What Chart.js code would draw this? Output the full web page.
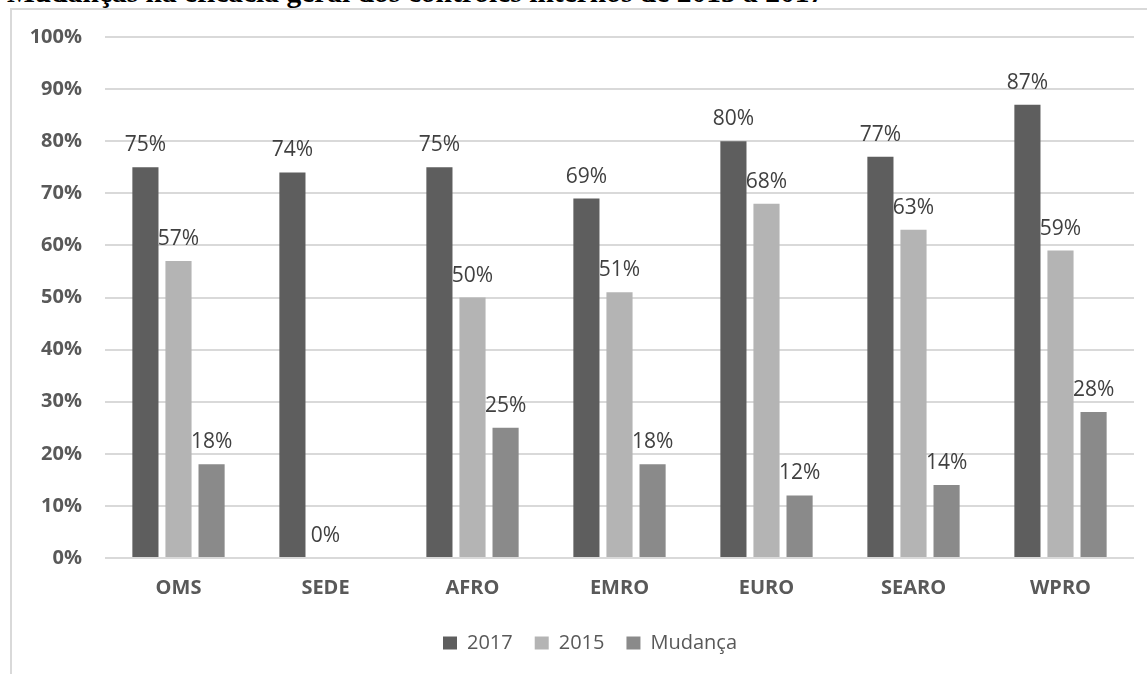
<!DOCTYPE html>
<html>
<head>
<meta charset="utf-8">
<script src="https://cdn.jsdelivr.net/npm/chart.js@4/dist/chart.umd.min.js"></script>
<style>
  html, body { margin: 0; padding: 0; background: #fff; overflow: hidden; }
  #page { position: relative; width: 1147px; height: 674px; overflow: hidden; }
  #title {
    position: absolute; left: 7px; top: -22px; white-space: nowrap;
    font: bold 29.5px "Liberation Serif", "Times New Roman", serif; line-height: 29px; color: #000;
  }
  #frame {
    position: absolute; left: 10px; top: 8px; width: 1200px; height: 700px;
    border-left: 2px solid #d9d9d9; border-top: 2px solid #d9d9d9;
  }
  #wrap { position: absolute; left: 0; top: 0; width: 1147px; height: 674px; }
</style>
</head>
<body>
<div id="page">
  <div id="title">Mudanças na eficácia geral dos controles internos de 2015 a 2017</div>
  <div id="frame"></div>
  <div id="wrap"><canvas id="chart"></canvas></div>
</div>
<script>
  /* ── Data ─────────────────────────────────────────── */
  const categories = ["OMS", "SEDE", "AFRO", "EMRO", "EURO", "SEARO", "WPRO"];
  const values2017 = [75, 74, 75, 69, 80, 77, 87];
  const values2015 = [57, 0, 50, 51, 68, 63, 59];
  const valuesChange = [18, null, 25, 18, 12, 14, 28];
  const yTicks = [0, 10, 20, 30, 40, 50, 60, 70, 80, 90, 100];

  const FONT = '"Open Sans", "Liberation Sans", sans-serif';

  /* ── Data labels above the bars ───────────────────── */
  const barLabels = {
    id: "barLabels",
    afterDatasetsDraw(chart) {
      const ctx = chart.ctx;
      ctx.save();
      ctx.font = "21px " + FONT;
      ctx.fillStyle = "#404040";
      ctx.textAlign = "center";
      ctx.textBaseline = "alphabetic";
      chart.data.datasets.forEach((ds, i) => {
        const meta = chart.getDatasetMeta(i);
        meta.data.forEach((bar, j) => {
          const v = ds.data[j];
          if (v === null || v === undefined) return;
          ctx.fillText(v + "%", bar.x, bar.y - 16);
        });
      });
      ctx.restore();
    }
  };

  /* ── Nudge the legend a little to the right, as in the source ── */
  const legendShift = {
    id: "legendShift",
    afterLayout(chart) {
      if (!chart.legend) return;
      chart.legend.left += 23;
      chart.legend.right += 23;
    }
  };

  new Chart(document.getElementById("chart"), {
    type: "bar",
    data: {
      labels: categories,
      datasets: [
        { label: "2017", data: values2017, backgroundColor: "#5e5e5e" },
        { label: "2015", data: values2015, backgroundColor: "#b4b4b4" },
        { label: "Mudança", data: valuesChange, backgroundColor: "#8a8a8a" }
      ]
    },
    options: {
      responsive: true,
      maintainAspectRatio: false,
      animation: false,
      categoryPercentage: 0.675,
      barPercentage: 0.79,
      layout: { padding: { left: 0, right: 13, top: 37, bottom: 11 } },
      plugins: {
        legend: {
          position: "bottom",
          labels: {
            font: { family: FONT, size: 20 },
            color: "#595959",
            boxWidth: 14,
            boxHeight: 13,
            padding: 22
          }
        },
        tooltip: { enabled: false }
      },
      scales: {
        x: {
          grid: { display: false },
          border: { display: false },
          ticks: { font: { family: FONT, size: 20, weight: "bold" }, color: "#595959", padding: 10 },
          afterFit: s => { s.height = 53; }
        },
        y: {
          min: 0,
          max: 100,
          afterBuildTicks: s => { s.ticks = yTicks.map(v => ({ value: v })); },
          grid: { color: "#d9d9d9", lineWidth: 2, drawTicks: false },
          border: { display: false },
          ticks: {
            font: { family: FONT, size: 20, weight: "bold" },
            color: "#595959",
            padding: 23,
            callback: v => v + "%"
          },
          afterFit: s => { s.width = 105; }
        }
      }
    },
    plugins: [barLabels, legendShift]
  });
</script>
</body>
</html>
